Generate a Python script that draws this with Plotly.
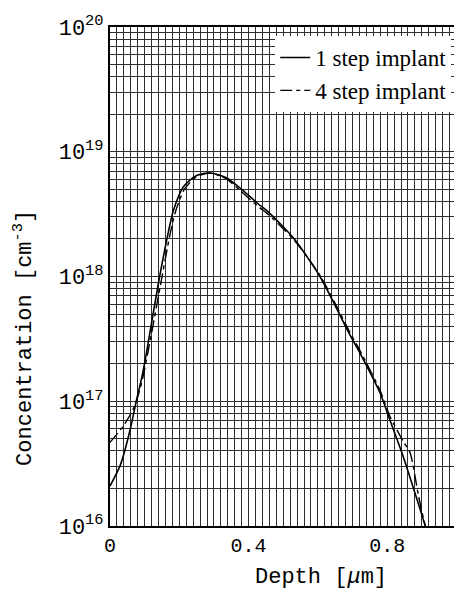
import plotly.graph_objects as go

# Depth profiles (depth in um, log10 of concentration in cm^-3)
depth_1step = [0.0, 0.03, 0.058, 0.075, 0.094, 0.106, 0.14, 0.168, 0.183, 0.212,
               0.25, 0.29, 0.337, 0.375, 0.433, 0.452, 0.529, 0.606, 0.693, 0.717,
               0.779, 0.808, 0.846, 0.89, 0.91, 0.925]
logc_1step = [16.32, 16.49, 16.77, 16.99, 17.22, 17.40, 17.95, 18.35, 18.53, 18.72,
              18.81, 18.83, 18.79, 18.71, 18.57, 18.53, 18.31, 18.00, 17.53, 17.41,
              17.07, 16.85, 16.56, 16.18, 16.00, 15.85]

depth_4step = [0.0, 0.038, 0.06, 0.075, 0.094, 0.11, 0.145, 0.172, 0.188, 0.215,
               0.25, 0.29, 0.337, 0.375, 0.433, 0.452, 0.529, 0.606, 0.693, 0.717,
               0.779, 0.808, 0.846, 0.866, 0.89, 0.91, 0.925]
logc_4step = [16.67, 16.80, 16.90, 16.99, 17.18, 17.40, 17.92, 18.32, 18.51, 18.70,
              18.80, 18.83, 18.78, 18.69, 18.55, 18.51, 18.30, 18.01, 17.55, 17.43,
              17.09, 16.88, 16.68, 16.59, 16.25, 16.00, 15.85]

conc_1step = [10.0 ** v for v in logc_1step]
conc_4step = [10.0 ** v for v in logc_4step]

decades = [16, 17, 18, 19, 20]
x_ticks = [0, 0.4, 0.8]
x_tick_labels = ["0", "0.4", "0.8"]

mono = "Liberation Mono"
serif = "Liberation Serif"
grid_col = "#2e2e2e"

fig = go.Figure()
fig.add_trace(go.Scatter(
    x=depth_1step, y=conc_1step, mode="lines", name="1 step implant",
    line=dict(color="black", width=1.6, shape="spline", smoothing=0.7),
))
fig.add_trace(go.Scatter(
    x=depth_4step, y=conc_4step, mode="lines", name="4 step implant",
    line=dict(color="black", width=1.4, dash="12px,4px,4px,4px",
              shape="spline", smoothing=0.7),
))

minor_y = [float(k) * 10.0 ** e for e in decades[:-1] for k in range(2, 10)]

fig.update_layout(
    width=454, height=594,
    margin=dict(l=110, r=0, t=27, b=68),
    paper_bgcolor="white", plot_bgcolor="white",
    showlegend=True,
    legend=dict(
        x=0.992, y=0.982, xanchor="right", yanchor="top",
        bgcolor="white", borderwidth=0,
        font=dict(family=serif, size=23, color="black"),
        tracegroupgap=0,
    ),
    xaxis=dict(
        range=[0, 0.993],
        tickvals=x_ticks, ticktext=x_tick_labels,
        ticks="", showline=True, linecolor="black", linewidth=2, mirror=True,
        showgrid=True, gridcolor=grid_col, gridwidth=1,
        minor=dict(dtick=0.02, tick0=0, showgrid=True, gridcolor=grid_col, gridwidth=1),
        tickfont=dict(family=mono, size=20, color="black"),
        zeroline=False,
    ),
    yaxis=dict(
        type="log", range=[16, 20],
        tickvals=[10.0 ** d for d in decades],
        ticktext=[f"10<sup>{d}</sup>" for d in decades],
        ticks="", showline=True, linecolor="black", linewidth=2,
        showgrid=True, gridcolor=grid_col, gridwidth=1,
        minor=dict(tickvals=minor_y, showgrid=True, gridcolor=grid_col, gridwidth=1),
        tickfont=dict(family=mono, size=22, color="black"),
        zeroline=False,
    ),
    annotations=[
        dict(text="Depth [<i>μ</i>m]", xref="paper", yref="paper",
             x=0.613, y=-0.104, xanchor="center", yanchor="middle",
             showarrow=False, font=dict(family=mono, size=22, color="black")),
        dict(text="Concentration [cm<sup>-3</sup>]", xref="paper", yref="paper",
             x=-0.25, y=0.377, xanchor="center", yanchor="middle", textangle=-90,
             showarrow=False, font=dict(family=mono, size=22, color="black")),
    ],
)

fig.write_html("out.html")
